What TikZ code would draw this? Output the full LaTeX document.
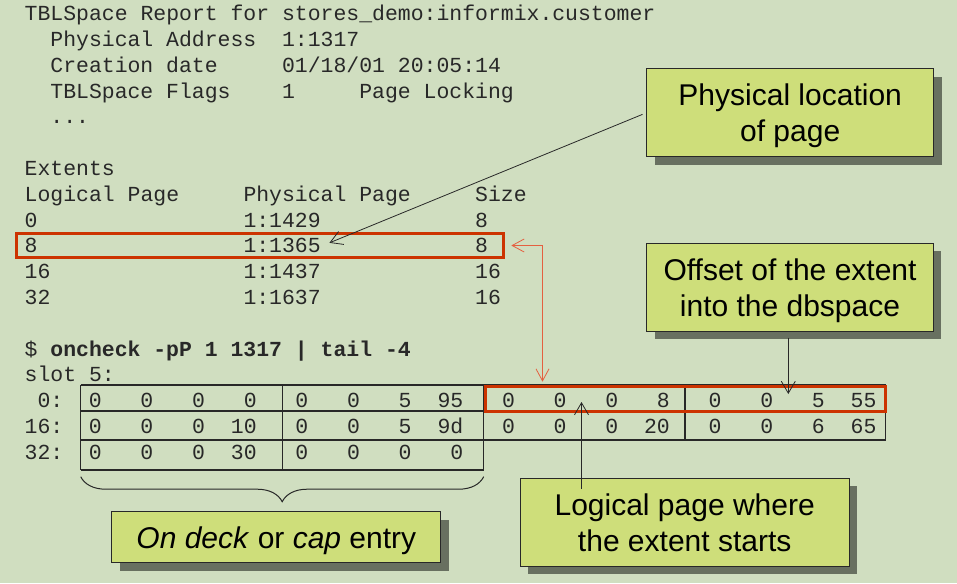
\documentclass[tikz,border=0pt]{standalone}
\usepackage{fontspec}
\setmonofont{Liberation Mono}
\setsansfont{Liberation Sans}
\usetikzlibrary{arrows.meta,shadows,decorations.pathreplacing}

\definecolor{slidebg}{RGB}{208,222,192}
\definecolor{notefill}{RGB}{206,222,122}
\definecolor{noteshadow}{RGB}{104,112,96}
\definecolor{markred}{RGB}{204,51,0}
\definecolor{pointred}{RGB}{228,96,64}
\definecolor{inkgray}{RGB}{40,40,40}

\begin{document}
\begin{tikzpicture}[x=1pt, y=-1pt,
    mono/.style={anchor=base west, inner sep=0pt, text=inkgray, font=\ttfamily\fontsize{21.45}{25}\selectfont},
    cell/.style={mono, anchor=base east},
    note/.style={draw=inkgray, line width=1pt, fill=notefill, align=center, inner sep=0pt, text depth=0pt,
        font=\sffamily\fontsize{30}{36}\selectfont,
        drop shadow={shadow xshift=8pt, shadow yshift=-8pt, fill=noteshadow, opacity=1}},
    hilite/.style={draw=markred, line width=3pt, inner sep=0pt},
    tableline/.style={inkgray, line width=1.3pt},
    pointer/.style={draw=inkgray, line width=0.8pt, -{Straight Barb[length=12pt,width=14pt]}},
    redpointer/.style={draw=pointred, line width=0.8pt, {Straight Barb[length=12pt,width=13pt]}-{Straight Barb[length=12pt,width=13pt]}}]
    \useasboundingbox (0,0) rectangle (957,583);
    \fill[slidebg] (0,0) rectangle (957,583);

    \node[mono] (title) at (24.5,20.7) {TBLSpace Report for stores\_demo:informix.customer};
    \node[mono] (addrlbl) at (50.2,46.5) {Physical Address};
    \node[mono] (addr) at (281.9,46.5) {1:1317};
    \node[mono] (datelbl) at (50.2,72.3) {Creation date};
    \node[mono] (date) at (281.9,72.3) {01/18/01 20:05:14};
    \node[mono] (flagslbl) at (50.2,98.1) {TBLSpace Flags};
    \node[mono] (flags) at (281.9,98.1) {1};
    \node[mono] (locking) at (359.1,98.1) {Page Locking};
    \node[mono] (more) at (50.2,123.9) {...};

    \node[mono] (extents) at (24.5,175.5) {Extents};
    \node[mono] (hlog) at (24.5,201.3) {Logical Page};
    \node[mono] (hphys) at (243.3,201.3) {Physical Page};
    \node[mono] (hsize) at (475,201.3) {Size};
    \foreach \lp/\pp/\sz [count=\i from 0] in {0/1:1429/8, 8/1:1365/8, 16/1:1437/16, 32/1:1637/16} {
        \node[mono] (log\lp) at (24.5,{227.1+25.8*\i}) {\lp};
        \node[mono] (phys\lp) at (243.3,{227.1+25.8*\i}) {\pp};
        \node[mono] (size\lp) at (475,{227.1+25.8*\i}) {\sz};
    }

    \node[mono] (prompt) at (24.5,356.1) {\$};
    \node[mono, font=\ttfamily\bfseries\fontsize{21.45}{25}\selectfont] (cmd) at (50.2,356.1) {oncheck -pP 1 1317 | tail -4};
    \node[mono] (slot) at (24.5,381.9) {slot 5:};
    \node[mono] (off0) at (37.4,407.7) {0:};
    \node[mono] (off16) at (24.5,433.5) {16:};
    \node[mono] (off32) at (24.5,459.3) {32:};

    \foreach \v [count=\j from 0] in {0,0,0,0,0,0,5,95,0,0,0,8,0,0,5,55}
        \node[cell] (a\j) at ({101.9+51.65*\j},407.7) {\v};
    \foreach \v [count=\j from 0] in {0,0,0,10,0,0,5,9d,0,0,0,20,0,0,6,65}
        \node[cell] (b\j) at ({101.9+51.65*\j},433.5) {\v};
    \foreach \v [count=\j from 0] in {0,0,0,30,0,0,0,0}
        \node[cell] (c\j) at ({101.9+51.65*\j},459.3) {\v};

    \draw[tableline] (80.7,385) -- (885.7,385);
    \draw[tableline] (80.7,411) -- (885.7,411);
    \draw[tableline] (80.7,440) -- (885.7,440);
    \draw[tableline] (80.7,470) -- (483.7,470);
    \draw[tableline] (80.7,385) -- (80.7,470);
    \draw[tableline] (282.3,385) -- (282.3,470);
    \draw[tableline] (483.7,385) -- (483.7,470);
    \draw[tableline] (685,385) -- (685,440);
    \draw[tableline] (885.7,385) -- (885.7,440);

    \node[hilite, minimum width=487.3pt, minimum height=23.6pt] (row8) at (260.15,245.5) {};
    \node[hilite, minimum width=400.3pt, minimum height=24.3pt] (slot0) at (685.15,398.85) {};

    \draw[inkgray, line width=1pt, decorate, decoration={brace, amplitude=25pt}] (483.7,476.7) -- (80.7,476.7);

    \node[note, minimum width=287pt, minimum height=87.7pt] (physloc) at (790.2,112.85) {Physical location\\of page};
    \node[note, minimum width=286.6pt, minimum height=87.7pt] (offset) at (790,287.2) {Offset of the extent\\into the dbspace};
    \node[note, minimum width=329.3pt, minimum height=87.7pt] (logical) at (684.7,522.2) {Logical page where\\the extent starts};
    \node[note, minimum width=329.3pt, minimum height=51pt] (capnote) at (276.3,537.2) {\textit{On deck} or \textit{cap} entry};

    \coordinate (offtip) at (788.3,394);
    \coordinate (logtip) at (581.5,402);
    \draw[pointer, shorten <=4pt] (physloc.west) -- ([xshift=8.5pt,yshift=3pt]phys8.east);
    \draw[redpointer] ([xshift=6pt]row8.east) -| ([xshift=59pt,yshift=3.5pt]slot0.north west);
    \draw[pointer, shorten <=6pt] (offset.south -| offtip) -- (offtip);
    \draw[pointer, shorten <=-11pt] (logical.north -| logtip) -- (logtip);
\end{tikzpicture}
\end{document}
